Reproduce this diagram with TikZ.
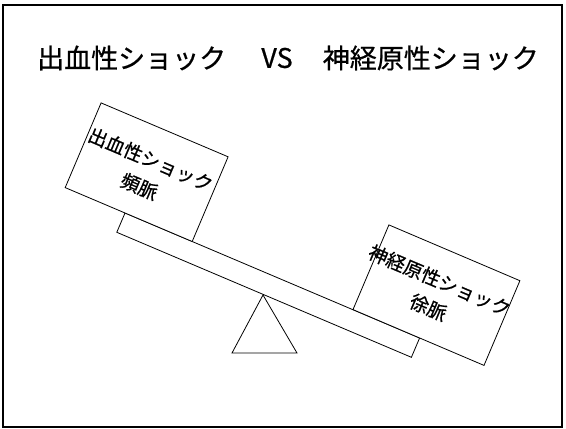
\documentclass[tikz,border=0pt]{standalone}
\usepackage{fontspec}
\setmainfont{Noto Sans CJK JP}[FakeBold=0.6]
\begin{document}
\begin{tikzpicture}[x=1pt,y=-1pt,
  shape line/.style={draw=black,line width=0.8pt,line join=miter},
  title text/.style={inner sep=0pt,font=\fontsize{27}{30}\selectfont},
  box text/.style={inner sep=0pt,rotate=-23,align=center,font=\fontsize{19}{29}\selectfont}]
\useasboundingbox (0,0) rectangle (566,429);
% outer frame
\draw[line width=1.6pt] (3,5) rectangle (562,427);
% title
\node[title text,anchor=west] (t1) at (37,58) {出血性ショック};
\node[title text] (t2) at (277,58) {VS};
\node[title text,anchor=east] (t3) at (539,58) {神経原性ショック};
% fulcrum
\draw[shape line] (263,295) -- (297,353) -- (232,353) -- cycle;
% plank
\draw[shape line,fill=white] (125,213) -- (419.6,338) -- (411.4,357.3) -- (116.8,232.3) -- cycle;
% left box
\draw[shape line,fill=white] (65.2,187.6) -- (192.2,241.5) -- (228.1,156.8) -- (101.1,102.9) -- cycle;
% right box
\draw[shape line,fill=white] (353,309.6) -- (484,365.4) -- (519.9,280.7) -- (388.9,224.9) -- cycle;
% box texts
\node[box text] (lt) at (145,173) {出血性ショック\\頻脈};
\node[box text] (rt) at (434,294) {神経原性ショック\\徐脈};
\end{tikzpicture}
\end{document}
